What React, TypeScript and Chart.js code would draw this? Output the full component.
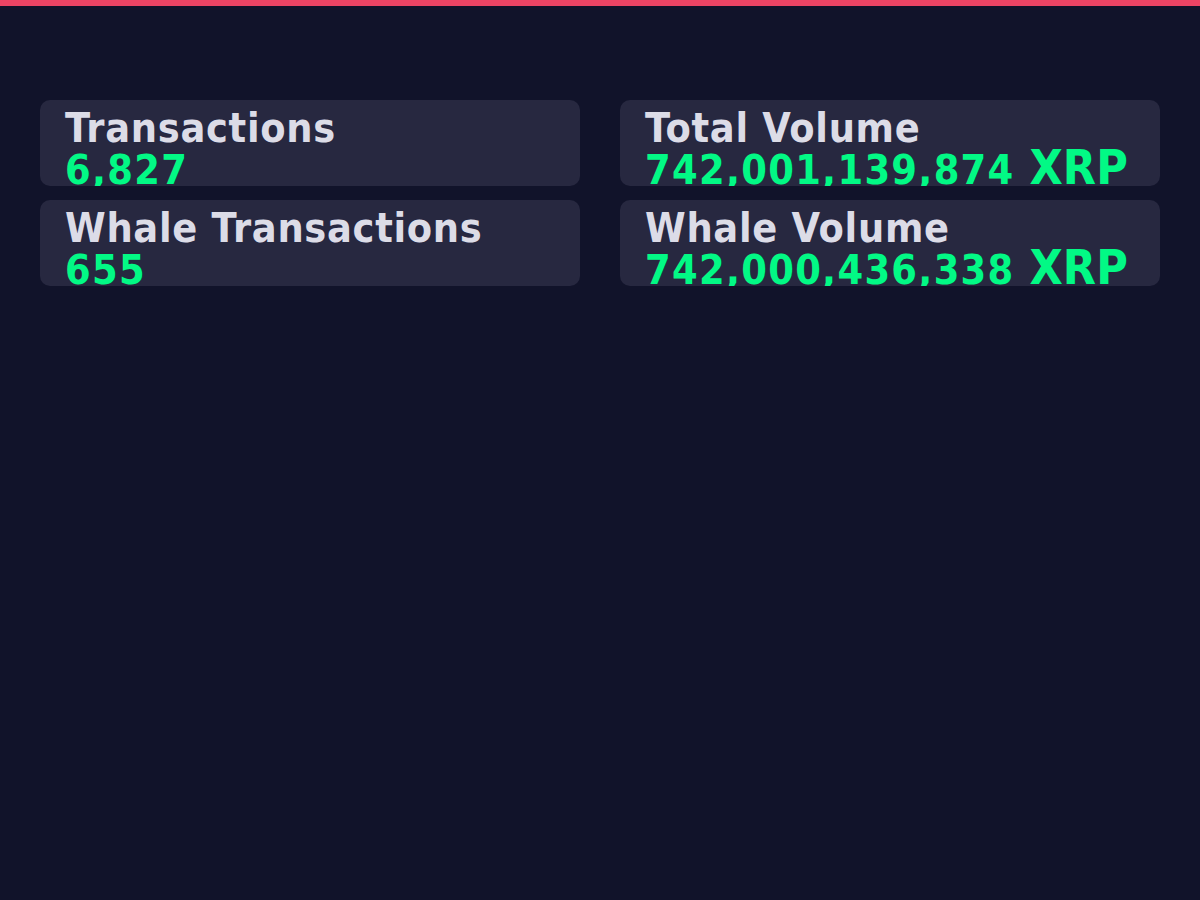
import { useEffect, useRef } from "react";
import { Chart, registerables } from "chart.js";

Chart.register(...registerables);

// stat cards, in grid order (left-right, top-bottom)
const statLabels = ["Transactions", "Total Volume", "Whale Transactions", "Whale Volume"];
const statValues = [6827, 742001139874, 655, 742000436338];
const statUnits = ["", "XRP", "", "XRP"];

// the activity chart below the cards has no points yet
const chartCategories: string[] = [];
const chartVolumes: number[] = [];

const FONT = '"DejaVu Sans Condensed", "DejaVu Sans", sans-serif';

function StatCard({ label, value, unit }: { label: string; value: number; unit: string }) {
  return (
    <div
      style={{
        background: "#272840",
        borderRadius: 10,
        height: 86,
        overflow: "hidden",
        padding: "8px 25px 0",
        boxSizing: "border-box",
      }}
    >
      <div style={{ color: "#dcdce7", fontSize: 41, lineHeight: "41px", letterSpacing: 0.7 }}>
        {label}
      </div>
      <div
        style={{
          color: "#02f985",
          fontSize: 41,
          lineHeight: "42px",
          letterSpacing: 1.3,
          whiteSpace: "nowrap",
        }}
      >
        {value.toLocaleString("en-US")}
        {unit && (
          <span style={{ fontSize: 48, letterSpacing: 0, lineHeight: 0 }}> {unit}</span>
        )}
      </div>
    </div>
  );
}

function ActivityChart() {
  const canvasRef = useRef<HTMLCanvasElement>(null);
  const chartRef = useRef<Chart | null>(null);

  useEffect(() => {
    if (!canvasRef.current) return;
    const ctx = canvasRef.current.getContext("2d");
    if (!ctx) return;

    chartRef.current = new Chart(ctx, {
      type: "line",
      data: {
        labels: chartCategories,
        datasets: [
          {
            label: "Volume",
            data: chartVolumes,
            borderColor: "#02f985",
            backgroundColor: "rgba(2, 249, 133, 0.15)",
          },
        ],
      },
      options: {
        animation: false,
        responsive: true,
        maintainAspectRatio: false,
        plugins: { legend: { display: false }, tooltip: { enabled: false } },
        scales: {
          x: { display: false },
          y: { display: false },
        },
      },
    });

    return () => {
      if (chartRef.current) {
        chartRef.current.destroy();
        chartRef.current = null;
      }
    };
  }, []);

  return (
    <div style={{ height: 520, margin: "34px 40px 0" }}>
      <canvas ref={canvasRef} />
    </div>
  );
}

export default function App() {
  useEffect(() => {
    document.body.style.margin = "0";
    document.body.style.background = "#11132a";
  }, []);

  return (
    <div
      style={{
        background: "#11132a",
        minHeight: 900,
        fontFamily: FONT,
        fontWeight: 700,
        fontStretch: "condensed",
      }}
    >
      <div style={{ height: 6, background: "#ec4464" }} />
      <div
        style={{
          display: "grid",
          gridTemplateColumns: "1fr 1fr",
          columnGap: 40,
          rowGap: 14,
          padding: "94px 40px 0",
        }}
      >
        {statLabels.map((label, i) => (
          <StatCard key={label} label={label} value={statValues[i]} unit={statUnits[i]} />
        ))}
      </div>
      <ActivityChart />
    </div>
  );
}
